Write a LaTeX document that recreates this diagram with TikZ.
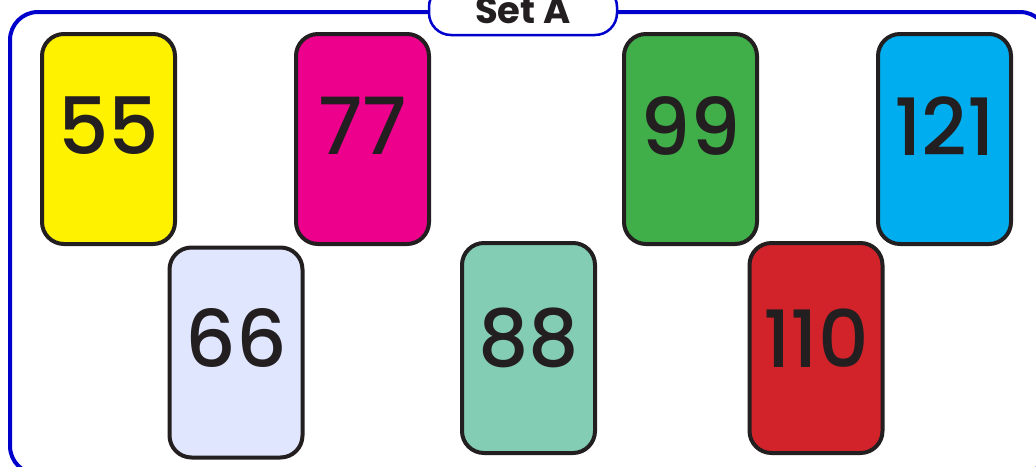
\documentclass[tikz,border=0pt]{standalone}
\usepackage{fontspec}
\newfontfamily\pop{Poppins Medium}
\newfontfamily\popb{Poppins Bold}
\definecolor{cborder}{HTML}{231F20}
\definecolor{frameblue}{HTML}{0000CC}
\definecolor{cyel}{HTML}{FFF200}
\definecolor{cmag}{HTML}{EC008C}
\definecolor{cgrn}{HTML}{40AE49}
\definecolor{ccyan}{HTML}{00AEEF}
\definecolor{clav}{HTML}{DFE6FD}
\definecolor{cteal}{HTML}{83CDB5}
\definecolor{cred}{HTML}{D2232A}
\tikzset{
  card/.style={draw=cborder, line width=4pt, rounded corners=22pt,
    minimum width=133pt, minimum height=210pt, inner sep=0pt},
  num/.style={font=\pop\fontsize{79}{79}\selectfont, text=cborder, inner sep=0pt},
}
\begin{document}
\begin{tikzpicture}[x=1pt,y=-1pt]
\useasboundingbox (0,0) rectangle (1036,466);
\draw[frameblue, line width=4pt, rounded corners=28pt] (10,12) rectangle (1048,474);
\node[draw=frameblue, fill=white, line width=2.5pt, rounded corners=22pt,
  minimum width=188pt, minimum height=50pt] (lab) at (523,10) {};
\node[font=\popb\fontsize{37}{37}\selectfont, text=cborder, anchor=base] (labt) at (523,23) {Set A};
\node[card, fill=cyel] (c55) at (108.5,139) {};
\node[card, fill=cmag] (c77) at (362.5,139) {};
\node[card, fill=cgrn] (c99) at (690.5,139) {};
\node[card, fill=ccyan] (c121) at (944.5,139) {};
\node[card, fill=clav] (c66) at (236,352.5) {};
\node[card, fill=cteal] (c88) at (528.5,348) {};
\node[card, fill=cred] (c110) at (816,348) {};
\node[num] (t55) at ([yshift=13]c55.center) {55};
\node[num] (t77) at ([yshift=13]c77.center) {77};
\node[num] (t99) at ([yshift=13]c99.center) {99};
\node[num] (t121) at ([yshift=13]c121.center) {121};
\node[num] (t66) at ([yshift=15]c66.center) {66};
\node[num] (t88) at ([yshift=10]c88.center) {88};
\node[num] (t110) at ([yshift=10]c110.center) {110};
\end{tikzpicture}
\end{document}
